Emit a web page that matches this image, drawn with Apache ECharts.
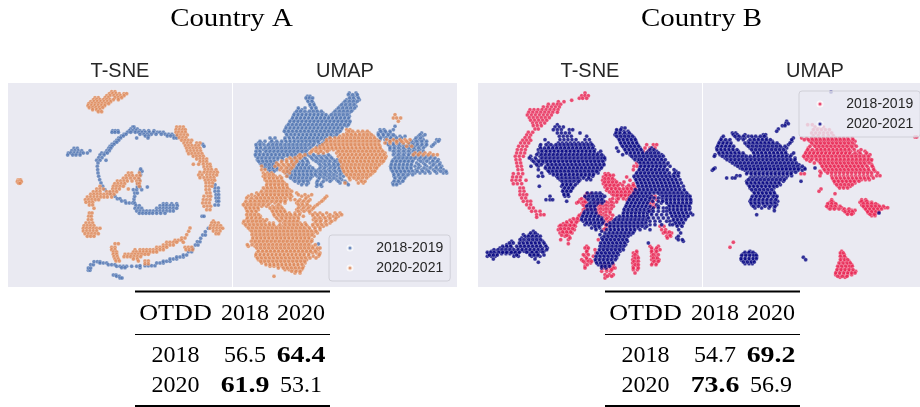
<!DOCTYPE html>
<html><head><meta charset="utf-8">
<style>html,body{margin:0;padding:0;background:#fff}#c{width:920px;height:407px}</style>
<script src="https://cdn.jsdelivr.net/npm/echarts@6/dist/echarts.min.js"></script>
</head><body><div id="c"></div>
<script>
// Points. Each row is [y, x, x, x, ...] in the units of that panel's axes.
const aTsne18 = [[232,398,402],[238,392,404,412],[243,338,346,354,388,398,408,420,432,446,462],[248,336,345,355,382,392,406,416,426,436,448,460,472,480,490],[254,372,378,420,432,442,454,468,484,496,506,516],[259,364,370,436,446,502,512,522,530],[265,356,362,410,444,522,530],[272,350,356],[278,344,350],[284,336,342,608],[290,330,336,612],[296,326,332,222,232],[303,320,328,215,225,235,245,270],[310,305,315,322,205,212,222,232,242,250,262],[316,300,312,203,218,228,240],[324,296,306],[332,290,300,318],[340,294],[350,292],[360,293],[370,294],[380,296],[390,299],[400,303],[410,308],[420,315],[430,330],[440,345],[447,352,360],[454,365,375],[460,378,388,398],[456,402],[448,402],[440,404],[430,404,412],[420,400,410,425],[412,412,420,442],[402,414],[390,418],[375,422],[365,420,426],[358,422],
[462,405,490,500,515,530],[468,408,418,480,490,500,510,520,532],[476,405,415,425,470,480,490,500,510,520,530],[484,410,420,430,440,450,460,470,480,490,500,510,520],[491,418,428,438,448,458,470,482,495],[405,645],[415,645,655],[425,645,655],[435,648,656],[445,648,656],[455,650,656],[466,645,655],[500,606,612],
[662,265,270],[655,265,272],[645,272,280],[636,282,292,300],[640,300,310,320],[645,325,335,345],[650,350,360,370,380,395,410],[654,365,375,420],[648,420,435,445,455,465],[640,470,480,490],[635,490,500,510],[628,510,520,530],[622,530,540,550],[616,550,560],[606,565,575],[596,578],[586,586,594],[576,592,600],[566,602],[556,608,616],[546,616],[536,625],[676,340,348],[680,350,358],[685,360,366]];
const aTsne20 = [[126,335,345],[132,328,338,348,358,372,380],[138,320,330,342,352,362,372],[144,285,295,315,325,345,355,365],[150,280,290,300,310,320,330,340,355],[156,272,282,292,302,312,322,332],[162,266,276,286,296,306,316,326],[168,264,274,284,294,304,314],[174,268,278,288,298,308],[180,278,290,300],[186,295,305],
[232,530,540,550],[240,528,538,548,556],[248,528,536,546,556],[256,532,542,552,562],[264,538,548,558],[272,545,555,565,575],[280,552,562,572,590,600],[288,556,566,576,586,596],[296,560,570,580,590,600],[304,562,572,582,592,602],[312,566,576,586,596,606],[320,580,590,600,610],[328,590,600,610,620],[336,600,610,620],[344,580,596,610,622,630],[352,612,622,632],[360,615,625,635,648],[368,600,612,622,632,642,652],[376,596,606,620,630,640,650],[384,600,612,622,632,642],[392,616,626,636,644],[400,618,628,638],[410,618,628,636],[420,618,628],[430,620,630],[440,612,624,632],[450,610,620,630],[460,608,618,628],[470,612,622,632],[480,620,630],
[370,385,395,418],[378,378,388,398,410,420],[386,370,380,392,404,416],[394,352,362,372,382,396,410,420],[402,344,354,364,374,412,418],[410,300,340,350,360,370,418],[418,290,300,310,338,348,358,385],[426,280,290,300,320,330,340,350],[434,272,282,292,302,312,322,332,342],[442,262,272,282,292,302,312,322,335],[450,256,266,276,286,296],[458,258,268,278],[466,268,278],[476,282],[490,268,276],[500,266,274],[510,265,275],[520,258,268,278],[528,252,262,272,282],[536,250,260,270,280,290,300],[544,250,260,270,280,290],[552,255,265,275,285,295],[560,262,272,282],
[391,54,58,62],[396,52,58,64],[401,56,60],
[514,640],[520,635,645,655],[528,632,642,652,662],[536,630,640,650,660,668],[544,640,650,660],[552,648,656],
[535,570],[545,566],[555,560],[565,545,555],[572,525,535,545],[578,500,510,520,530,550],[582,345,355],[586,490,500,510,520],[593,335,345,470,480,490,500,555,565,575],[600,335,345,405,420,430,440,450,460,470,480,490,558,568,578],[607,340,350,400,410,420,430,440,450,460,470],[614,340,350,375,385,395,405,415,425,435,445],[621,342,352,372,382,392,402,412,422],[628,345,355,400,412],[634,348,358,415,435,445],[642,435,445]];
const aUmap18 = [[130,358,378],[140,232,240,362,372,382],[150,232,245,350,362,374,388],[160,238,250,340,352,364,376],[170,242,254,330,342,354,366,378],[180,205,216,245,258,320,332,344,356,368],[190,195,207,219,231,243,255,267,279,310,322,334,346,358],[200,190,202,214,226,238,250,262,274,286,298,310,322,334,346,358],[210,185,197,209,221,233,245,257,269,281,293,305,317,329,341,353],[220,178,190,202,214,226,238,250,262,274,286,298,310,322,334,346,358],[230,170,182,194,206,218,230,242,254,266,278,290,302,314,326,338,350,495],[240,165,177,189,201,213,225,237,249,261,273,285,297,309,321,333,450,462,490],[250,168,180,192,204,216,228,240,252,264,276,288,300,312,324,445,457,469,481,575],[260,175,190,205,217,229,241,253,265,277,289,301,313,448,460,472,485,495,510,525,565,578],[270,125,165,180,195,210,222,234,246,258,270,282,294,450,465,480,495,510,555,568,580,620,628],[280,85,95,120,132,144,156,170,182,194,206,218,230,242,254,266,278,470,490,510,540,552,564,576,588,615],[290,80,92,110,122,134,146,158,170,182,194,206,218,230,245,262,480,495,510,525,540,555,570,585,605],[300,85,100,112,124,136,148,160,172,184,196,208,220,232,480,495,510,525,540,555,570],[310,80,92,104,116,128,140,152,164,176,188,200,212,224,495,510,525,540,555,570],[320,78,90,102,114,126,138,150,162,174,190,205,220,240,255,270,285,300,500,512,524,536,548,560,575,590,605],[330,82,94,106,118,130,142,158,185,200,215,230,250,265,280,295,310,322,490,502,514,526,538,550,565,580,595,610,625],[340,90,102,114,126,138,185,197,209,221,235,265,280,295,310,322,330,485,497,509,521,533,545,560,580,600,615,630],[350,100,112,124,136,180,192,204,216,228,240,275,290,305,318,330,482,494,506,518,530,542,555,570,590,605,620,635],[360,115,127,140,180,192,204,216,228,240,252,265,280,295,310,325,335,484,496,508,520,532,544,558,575,590,610,625,640],[370,170,182,194,206,218,230,242,254,266,278,290,305,320,335,490,502,514,526,540,555,570,585,600,620,640,650],[380,175,187,199,211,223,235,247,262,275,290,305,320,340,492,504,516,528],[390,190,202,214,226,238,265,290,305,320,335,495,507,520],[400,205,220,235,260,275,330,350,488,500,510],[410,260,275],[583,265],
[135,355,368,382],[145,228,238,248,358,370,385],[155,234,246,345,358,370,382],[165,240,252,335,347,360,372],[175,205,225,245,258,325,338,350,362,374],[185,200,212,225,238,250,262,274,315,328,340,352,364],[195,192,204,216,228,240,252,264,276,288,304,316,328,340,352],[205,188,200,212,224,236,248,260,272,284,296,308,320,332,344,356],[215,180,192,204,216,228,240,252,264,276,288,300,312,324,336,348,360],[225,175,187,199,211,223,235,247,259,271,283,295,307,319,331,343,355],[235,168,180,192,204,216,228,240,252,264,276,288,300,312,324,336],[245,163,175,187,199,211,223,235,247,259,271,283,295,307,319,330,452,466,480],[255,170,183,195,207,219,231,243,255,267,279,291,303,320,445,460,475,490,570,585],[265,120,135,165,178,190,202,214,226,238,250,262,274,286,300,452,468,482,500,515,558,572],[275,90,105,125,140,155,168,180,192,204,216,228,240,252,264,285,480,500,545,560,575,590,625],[285,78,90,102,115,128,140,152,165,177,189,201,213,225,237,250,270,475,490,505,520,535,548,562,576,590,610],[295,80,92,105,118,130,142,154,166,178,190,202,214,226,240,480,492,505,520,535,550,565,580],[305,78,90,108,120,132,144,156,168,180,192,204,216,228,490,505,520,535,550,565,580],[315,76,88,100,112,124,136,148,160,172,184,196,208,232,250,265,280,295,490,505,520,535,550,565],[325,84,96,108,120,132,144,156,195,210,225,245,260,275,290,305,495,507,519,531,543,555,570,585,600,615],[335,86,98,110,122,134,190,204,218,232,258,272,286,300,315,328,487,499,511,523,535,547,572,590,608,622],[345,94,106,118,130,142,182,194,206,218,230,270,285,298,312,325,484,496,508,520,532,544,566,585,610,628],[355,105,118,130,142,176,188,200,212,224,236,248,270,284,300,314,328,483,495,507,519,531,543,565,582,600,618,632],[365,120,132,172,184,196,208,220,232,244,258,272,286,300,315,330,488,500,512,524,536,548,562,578,596,615,632,648],[375,172,184,196,208,220,232,244,256,270,284,298,312,330,492,506,520,534,548],[385,182,194,206,218,230,242,268,282,298,312,330,495,510,524],[395,195,208,220,232,262,280,300,325,345,492,505,518],[405,215,230,262,272,355,490,500]];
const aUmap20 = [[240,350,360],[250,350,362,375,390,405,418],[260,330,345,357,369,381,393,405,417,430],[270,290,305,320,332,344,356,368,380,392,404,416,428,440,470,490,510,525,540],[280,285,297,309,321,333,345,357,369,381,393,405,417,429,441,465,480,500,520,535],[290,270,282,294,306,318,330,342,354,366,378,390,402,414,426,438,450,530,545],[300,250,262,274,286,298,310,322,334,346,358,370,382,394,406,418,430,442,454],[310,240,265,280,320,332,344,356,368,380,392,404,416,428,440,452,465,555,570,585,600],[315,550,565,580,595,610,622],[320,205,215,325,337,349,361,373,385,397,409,421,433,445,457,468],[330,170,185,200,330,342,354,366,378,390,402,414,426,438,450,462],[340,140,155,170,185,195,335,347,359,371,383,395,407,419,431,443,455],[350,95,135,150,165,178,190,335,347,359,371,383,395,407,419,431,443],[360,95,105,150,165,180,340,352,364,376,388,400,412,424,436],[370,100,112,125,165,178,345,357,369,381,393,405,417,428],[380,100,112,124,136,150,170,355,367,379,391,403,415],[390,105,117,129,141,153,360,380,392],[400,115,127,139,151,163,345,385,400],[195,495],[205,490,500,512],[215,505],
[410,110,122,134,146,158,170],[420,105,117,129,141,153,165,178],[430,80,92,104,116,128,140,152,165,178,200],[440,55,75,87,99,111,123,135,147,159,172,185,215,235,290],[450,60,72,84,96,108,120,132,144,156,168,182,195,210,225,240,280],[460,45,57,69,81,93,105,120,135,150,165,200,215,230,268],[470,45,57,69,81,95,110,128,140,152,210,225,240,255],[480,50,62,74,85,125,137,149,161,200,215,230,245],[490,55,67,79,130,142,154,166,178,195,210,240,255,270,290,315,330],[500,55,67,79,91,135,150,162,174,186,200,220,250,265,280,295,310,325],[510,50,62,74,86,98,110,145,157,169,181,193,205,250,262,274,288,300,315],[520,40,52,64,76,88,100,118,130,160,172,184,196,210,225,255,270,285,300],[530,50,62,74,86,98,110,122,134,146,158,170,182,194,206,218,232,250,265,280],[540,60,72,84,96,108,120,132,144,156,168,180,192,204,216,228,240,255,270],[550,70,82,94,106,118,130,142,154,166,178,190,202,214,226,238,250,262],[560,72,84,96,108,120,132,144,156,168,180,192,204,216,228,240,252],[570,70,82,94,106,118,130,142,154,166,178,190,202,214,226,238,246],[580,72,84,96,108,120,132,144,156,168,180,192,204,216,228,240],[590,55,75,87,99,111,123,135,147,159,171,183,195,207,219,231,243,250],[600,85,97,109,121,133,145,157,169,181,193,205,217,229,241,255,265],[610,80,92,104,116,128,140,152,164,176,188,200,212,224,236,248,260,270],[620,78,90,102,114,126,138,150,162,174,186,198,210,222,235,250,265],[630,85,97,109,121,133,145,157,169,181,193,205,217,230],[640,95,107,119,131,143,155,167,179,191,203,215,225],[650,120,132,144,156,168,180,192,204,220],[660,165,177,189,201,215],[670,195,210],[680,132],
[245,356,368,384,398,412],[255,340,352,364,376,388,400,412,424],[265,300,315,326,338,350,362,374,386,398,410,422,434],[275,290,302,314,327,339,351,363,375,387,399,411,423,435,447,480,500,515,530],[285,278,291,303,315,327,339,351,363,375,387,399,411,423,435,447],[295,258,270,282,294,306,318,330,342,354,366,378,390,402,414,426,438,450],[305,245,258,272,292,326,338,350,362,374,386,398,410,422,434,446,458],[315,210,225,330,342,354,366,378,390,402,414,426,438,450,462],[325,180,195,210,335,347,359,371,383,395,407,419,431,443,455,466],[335,155,170,185,200,332,344,356,368,380,392,404,416,428,440,452,460],[345,145,160,175,190,340,352,364,376,388,400,412,424,436,448],[355,155,170,185,338,350,362,374,386,398,410,422,434,440],[365,160,172,342,354,366,378,390,402,414,426,434],[375,105,118,130,350,362,374,386,398,410,422],[385,105,118,130,142,155,358,372,385,398,410],[395,110,122,134,146,158,395,405],[405,110,122,134,146,158,170],[415,100,112,124,136,148,160,172],[425,95,110,122,134,146,158,170,185],[435,65,85,98,110,122,134,146,158,170,182,205,225,245],[445,50,65,80,92,104,116,128,140,152,165,180,228,285],[455,48,62,75,88,100,112,126,140,152,165,205,220,235,275],[465,40,52,63,75,87,100,115,145,205,218,232,262],[475,48,60,72,84,120,132,144,156,205,220,235,250],[485,52,65,78,128,140,152,164,205,222,238],[495,50,62,74,86,132,145,157,170,182,195,208,248,262,278,300,320,335],[505,52,65,78,90,140,155,168,180,192,205,255,270,285,300,318],[515,42,55,68,80,92,105,150,165,178,190,202,258,272,288,305],[525,46,58,70,82,94,106,118,130,150,165,178,190,202,215,228,248,262,275,290],[535,55,67,79,91,103,115,127,139,151,163,175,187,199,211,223,238,255,270],[545,65,77,89,101,113,125,137,149,161,173,185,197,209,221,233,245,258],[555,66,78,90,102,114,126,138,150,162,174,186,198,210,222,234,246],[565,68,80,92,104,116,128,140,152,164,176,188,200,212,224,236],[575,64,76,88,100,112,124,136,148,160,172,184,196,208,220,232,245],[585,52,66,80,92,104,116,128,140,152,164,176,188,200,212,224,236,256],[595,80,92,104,116,128,140,152,164,176,188,200,212,224,236,248,262,270],[605,85,98,110,122,134,146,158,170,182,194,206,218,230,242,256],[615,78,90,102,114,126,138,150,162,174,186,198,210,222,236,268],[625,82,94,106,118,130,142,154,166,178,190,202,214,226,240,258],[635,92,104,116,128,140,152,164,176,188,200,212,224],[645,108,120,132,144,156,168,180,192,204,216],[655,145,160,172,184,196,208,218],[665,185,198,210]];
const bTsne18 = [[130,345],[138,335,345,355],[146,328,338,350],[152,305],[156,265,282],[164,235,250,262,272],[172,220,232,244,256,268],[180,180,192,204,216,228,240,252,264],[188,176,188,200,212,224,236,248,262],[196,172,184,196,208,220,232,244],[204,178,190,202,214,226,238],[212,182,194,206,218,230],[220,188,200,212,224],[228,190,202,214],[238,195,205],[248,175,188],[256,170,182],[264,165,178],[272,158,170,182],[280,152,164,176],[290,146,158,170],[300,142,154,166],[310,140,152,164],[320,136,148,160],[330,138,150],[340,140,152],[350,142,154],[360,144,156],[372,130,145,158],[382,128,140,152],[392,126,138,150,168],[402,130,142,155],[415,150,160],[425,150,162],[435,150,160,170],[445,155,167],[455,160,172,182],[465,170,182],[475,178,190],[485,185,197,210],[495,200,212,222],[503,200],
[285,530,550,560],[295,525,540,555],[305,520,535],[340,500],[350,492,502],[360,490],[372,405,415],[382,400,412,424,470],[392,398,410,422,434,480],[402,400,412,424,436,450,490],[412,405,417,429,440,470,482,495],[422,410,425,440,452,464,476,488,500],[432,350,362,425,437,449,461,473,485,497],[440,545,555,440,452,464,476,488,345],[450,545,560,330,345,420,440,470],[460,540,550,320,335,350,385,400,415,430],[470,545,555,345,360,385,400,415,430],[480,540,340,355,370,385,400,415],[492,335,385,400,420],[502,325,400,415],[512,300,315,325,405,420],[522,280,292,304,316,405],[530,268,280,292,304,316,410,570,582],[540,265,277,289,301,313,400,405,575,587],[550,270,282,294,306,580,592,605],[560,285,297,590,602],[570,272,295,385],[582,295],[590,350,540,565],[600,352,545,557,570,375],[610,350,378,490,500,545,557],[620,345,370,490,502,545,557],[630,335,350,360,488,500,545,557,567],[640,345,362,488,500,548,560],[645,400,415,430],[650,345,490,502],[655,395,410,422,435],[660,490,502],[665,395,410,422],[670,495],[675,405,418,430],[685,405],
[377,408,420,430],[387,405,416,428],[397,404,416,428,440,462],[407,408,420,432,444,458,476,490],[417,412,424,436,448,460,472,484,496],[427,418,430,442,454,466,478,490,502],[437,430,442,454,466,478,490],[447,335,350,428,445,460,475],[457,325,340,345,375,392,408,424,440],[467,340,352,378,392,408,424],[477,345,362,375,392,408,424],[487,340,380,392,408,420],[497,328,392,408,428],[507,310,322,395,410,425],[517,290,305,320,400,415],[527,272,286,300,312,408,420],[537,272,284,296,308,405],[547,278,290,302,585,598],[557,275,290,600],[565,300,592],[595,345,355,545,560],[605,350,545,560,500],[615,340,355,495,550,565],[625,350,495,505,550,562],[635,340,355,365,492,505,552,565],[645,352,495,505,545,558],[655,345,490,505,400,430],[660,410,425],[680,412,425]];
const bTsne20 = [[225,262],[232,255,268,280],[240,250,262,274,298,308],[250,262,274,286,298,330],[260,268,280,292,304,350],[270,225,270,282,294,306,318,345,358],[280,235,265,277,289,301,313,325,337,349,362],[290,210,235,250,262,274,286,298,310,322,334,346,358,370],[300,205,218,230,242,254,266,278,290,302,314,326,338,350,362,374],[310,205,217,229,241,253,265,277,289,301,313,325,337,349,361,373,385],[320,182,210,222,234,246,258,270,282,294,306,318,330,342,354,366,378,390,400],[330,185,200,212,224,236,248,260,272,284,296,308,320,332,344,356,368,380,392,404],[340,195,207,219,231,243,255,267,279,291,303,315,327,339,351,363,375,387,400],[350,183,205,228,240,252,264,276,288,300,312,324,336,348,360,372,384,396],[360,205,232,244,256,268,280,292,304,316,328,340,352,364,376,388],[370,215,240,252,264,276,288,300,312,324,336,348,360,372,384],[380,205,218,260,272,284,296,308,320,332,344,356,368],[390,270,282,294,306,318,330,350,362],[400,280,292,304,322],[410,208,275,287,299,311],[420,280,292,304],[430,282,294],[440,240,285,296],[450,228,240,248],[455,290],
[235,455,465],[245,440,450,462,474],[255,435,447,459,471,483],[265,445,457,469,481,493],[275,450,462,474,486,498],[285,455,467,479,491,503],[295,440,462,474,486,498,510,545],[305,445,468,480,492,504,516,535,548,560],[315,458,480,492,504,516,525,537,549,561,575],[325,490,502,514,525,537,549,561,573],[335,505,512,520,532,544,556,568,580],
[345,515,527,539,551,563,575,590],[355,510,522,534,546,558,570,582],[365,505,517,529,541,553,565,577,589,618],[375,498,510,522,534,546,558,570,582,594,610,622],[385,495,507,519,531,543,555,567,579,591,603,615],[395,500,512,524,536,548,560,572,584,596,608,620],[405,505,517,529,541,553,565,577,589,601,613,625],[415,510,522,534,546,558,570,582,594,606,618,630],[425,500,512,524,536,548,560,572,584,596,608,620,632,644],[435,360,372,384,396,490,502,514,526,538,570,582,594,606,618,630,642,654],[445,350,362,374,386,398,480,492,504,516,528,575,587,599,611,623,635,647,659],[455,365,377,389,401,475,487,499,511,523,535,590,602,614,626,638,650,662],[465,355,367,379,470,482,494,506,518,530,560,596,608,620,632,644,656],[475,360,372,465,477,489,501,513,525,537,600,612,624,636,648,660],[485,345,357,369,465,477,489,501,513,525,600,612,624,636,648],[495,340,352,364,376,460,472,484,496,508,520,532,605,617,629,641,655,668],[505,335,347,359,371,383,395,440,452,464,476,488,500,512,524,612,624,636,648],[515,340,352,364,376,388,400,430,442,454,466,478,490,502,514,526,612,624,636],[525,345,357,369,381,393,410,425,437,449,461,473,485,497,509,521,540,620,632],[535,365,377,389,420,432,444,456,468,480,492,504,525],[545,395,420,432,444,456,468,480,492],[555,390,410,422,434,446,458,470,482],[565,395,405,417,429,441,453,465,620],[575,400,412,424,436,448,460,472,640],[585,395,407,419,431,443,455,467],[595,395,407,419,431,443,455],[605,390,402,414,426,438,450],[615,385,397,409,421,433,445],[625,380,392,404,416,428,440],[635,378,390,402,414,426],[645,385,397,409,420],[655,395,408],
[545,190],[555,160,178,190,202],[565,155,170,182,194,206],[575,125,155,170,182,194,206,218],[585,110,122,150,162,174,186,198,210,225],[595,90,102,114,126,145,158,170,182,194,206,218,232],[605,65,78,90,102,114,126,138,150,162,174,186,198,210,222],[612,55,67,79,95,108,120,132,144,180,192,204],[620,52,64,76,132,145,185,198,210],[628,70,195],[638,205],
[285,212,228,243,258,270,282,294,306,318,330,342,354,366],[295,212,224,236,248,260,272,284,296,308,320,332,344,356,368],[305,215,228,240,252,264,276,288,300,312,324,336,348,360,372,392],[315,200,214,226,238,250,262,274,286,298,310,322,334,346,358,370,382,395],[325,178,196,216,228,240,252,264,276,288,300,312,324,336,348,360,372,384,396,404],[335,190,206,218,230,242,254,266,278,290,302,314,326,338,350,362,374,386,398],[345,200,214,234,246,258,270,282,294,306,318,330,342,354,366,378,390,402],[355,226,238,250,262,274,286,298,310,322,334,346,358,370,382,394],[365,236,248,260,272,284,296,308,320,332,344,356,368,380],[375,250,262,274,286,298,310,322,334,346,358,370],[385,264,276,288,300,312,324,340,356],[395,276,288,300,312,326],[405,278,290,302,316],[415,284,296,308],[425,278,290,302],[435,282,294],
[240,440,452],[250,438,450,464,478],[260,440,452,464,476,488],[270,448,460,472,484,496],[280,452,464,476,488,500],[290,458,470,482,494,506],[300,465,477,489,501,513,540,552],[310,470,482,494,506,518,530,542,554,566],[320,485,497,509,520,532,544,556,568,580],[330,495,507,515,527,539,551,563,575,586],
[340,510,522,534,546,558,570,582,594],[350,512,524,536,548,560,572,584,600],[360,508,520,532,544,556,568,580,592,612],[370,500,512,524,536,548,560,572,584,598,614,626],[380,492,504,516,528,540,552,564,576,588,600,612,625],[390,498,510,522,534,546,558,570,582,594,606,618,630],[400,502,514,526,538,550,562,574,586,598,610,622,634],[410,505,517,529,541,553,565,577,589,601,613,625,640],[420,496,508,520,532,544,556,568,580,592,604,616,628,642],[430,352,366,378,390,492,504,516,528,540,552,564,576,588,600,612,624,636,650],[440,345,356,368,380,392,404,484,496,508,520,532,544,578,590,602,614,626,638,650,660],[450,355,370,383,395,478,490,502,514,526,538,578,590,602,614,626,638,650,662],[460,360,372,384,396,472,484,496,508,520,532,574,590,602,614,626,638,650,662],[470,350,362,374,468,480,492,504,516,528,540,565,598,610,622,634,646,658],[480,352,364,376,462,474,486,498,510,522,534,546,598,610,622,634,646,658],[490,342,354,366,378,460,472,484,496,508,520,532,544,602,614,626,638,650,662],[500,338,350,362,374,386,448,460,472,484,496,508,520,532,606,618,630,642,654],[510,335,347,359,371,383,395,435,447,459,471,483,495,507,519,531,610,622,634,646],[520,350,362,374,386,398,420,432,444,456,468,480,492,504,516,528,616,628,640],[530,375,387,420,432,444,456,468,480,492,504,516,530,622,636],[540,378,410,422,434,446,458,470,482,494,510,540,626],[550,405,417,429,441,453,465,477,489,632],[560,402,414,426,438,450,462,474,625],[570,398,410,422,434,446,458,470,625,637],[580,392,404,416,428,440,452,464,535],[590,390,402,414,426,438,450,462],[600,388,400,412,424,436,448,460],[610,382,394,406,418,430,442],[620,378,390,402,414,426,438],[630,376,388,400,412,424,436],[640,380,392,404,416,428],[650,395,405,418],
[550,182,196],[560,165,175,187,199,211],[570,150,162,176,188,200,212],[580,118,130,148,160,172,184,196,208,222],[590,98,110,122,140,152,164,176,188,200,212,228],[600,72,84,96,108,120,132,144,156,168,180,192,204,216,230],[608,52,62,72,86,98,110,124,136,148,170,186,200,218],[616,58,70,82,140,180,192,204,222],
[445,540,552,565],[455,548,565,578],[475,550,565,580,590],[485,537,550,565,580,590],[495,545,560,575,590],[505,536,550,565,580,595],[515,540,555,570,590,600],[525,555,575,600,608]];
const bUmap18 = [[225,338,352],[232,360,372,385],[240,355,367,379,391,403],[250,350,362,374,386,398,410],[258,355,370,385,400,415],[262,660,665],[265,320,335,350,362,374,386,398,410,422,434,446,458,472],[275,345,358,370,382,394,406,418,430,442,454,466,480],[285,355,367,379,391,403,415,427,439,451,463,478],[295,340,365,377,389,401,413,425,437,449,461,473],[305,335,347,359,371,383,395,407,419,431,443,455,467,490,510],[315,330,342,354,366,378,390,402,414,426,438,450,462,474,486,498,512,525],[325,330,342,354,366,378,390,402,414,426,438,450,462,474,486,498,510,522],[335,345,372,384,396,408,420,432,444,456,468,480,492,504,516,528],[345,380,392,404,416,428,440,452,464,476,488,500,512,530],[355,385,397,409,421,433,445,457,469,481,493,505,520,535],[365,375,392,404,416,428,440,452,464,476,488,500,512,524,540],[372,318,328],[378,375,410,422,434,446,458,470,482,494,506,518,530,545,555],[390,415,427,439,451,463,475,487,499,511,523],[400,420,432,444,456,468,480],[410,430,442,454,466],[418,378],[425,372],[432,420],[450,410,500,512],[458,405,415,495,507,519,530],[466,400,412,424,500,512,524,536,548],[474,400,412,424,440,508,520,532,544,556,570,578],[482,445,458,470,480,515,527,539,551],[490,455,467,475,520,532,544],[498,530,540],
[605,440],[615,438,448],[625,440,452],[635,438,450,462],[645,435,447,459,470],[655,430,442,454,466],[665,425,437,449,461,472,482],[675,422,434,446,458,470],[683,435,450],[578,115],[593,105],
[270,328,340,352,364,376,388,400,412,424,436,448,460,474],[280,350,364,376,388,400,412,424,436,448,460,472],[290,345,360,372,384,396,408,420,432,444,456,470,484],[300,338,352,366,378,390,402,414,426,438,450,462,478,498],[310,332,344,356,368,380,392,404,416,428,440,452,464,480,495,515],[320,326,338,350,362,374,386,398,410,422,434,446,458,470,482,494,506,520],[330,335,350,364,376,388,400,412,424,436,448,460,472,484,496,508,520,530],[340,358,376,388,400,412,424,436,448,460,472,484,496,508,522],[350,382,394,406,418,430,442,454,466,478,490,502,516,532],[360,388,400,412,424,436,448,460,472,484,496,508,520,536],[370,378,398,410,422,434,446,458,470,482,494,506,518,530,548],[385,412,424,436,448,460,472,484,496,508,520,535],[395,418,430,442,454,466,478,492],[405,425,437,449,461,472],[415,434,446,458],[455,410,500,515],[462,398,410,422,505,517,530,542],[470,395,408,420,435,505,517,529,541,553,565],[478,405,418,432,448,462,512,524,536,548,560],[486,450,462,472,518,530,542,552],[494,458,470,525,538],
[610,436,445],[620,436,448],[630,436,448,458],[640,432,444,456,466],[650,428,440,452,464,472],[660,426,438,450,462,474],[670,422,434,446,458,470,480],[680,428,442,456]];
const bUmap20 = [[127,408],[215,275],[222,272,280],[228,262,270],[238,250],[245,245],[250,112,122],[255,115,127,150,205,212],[265,80,125,137,150,175,190,202,214,295],[275,75,87,99,160,172,184,196,208,220,232,290],[285,70,82,94,106,155,167,179,191,203,215,227,239,251,280],[295,65,77,89,101,113,165,177,189,201,213,225,237,249,261,275],[305,70,82,94,106,118,130,175,187,199,211,223,235,247,259,271],[315,60,75,87,99,111,123,135,147,180,192,204,216,228,240,252,264,276,290],[325,90,102,114,126,138,150,162,174,186,198,210,222,234,246,258,270,282,300],[335,105,117,129,141,153,165,177,189,201,213,225,237,249,261,273,285,297],[345,120,132,144,156,168,180,192,204,216,228,240,252,264,276,288,300,312],[355,60,135,147,159,171,183,195,207,219,231,243,255,267,279,291,303,315,328,360],[362,52,150,165,177,189,201,213,225,237,249,261,273,285,297,309,322],[378,125,135,170,182,194,206,218,230,242,254,266,278,290],[385,95,112,120,165,177,189,201,213,225,237,249,261,273],[395,155,167,179,191,203,215,227,239,251,265,318],[405,160,172,184,196,208,220,232,244,256],[415,165,177,189,201,213,225,237],[425,175,187,199,211,223,235],[435,180,192,204,216,228,240],[445,170,182,194,206,218,232,244],[455,165,177,189,201,213,225,237,248],[465,170,182,194,206,218,232,245],[475,180,200,222,238],[483,238],[495,185],[490,552],
[605,165],[612,145,157,169,180],[622,140,152,164,176,185],[632,140,152,164,176],[642,150,162,172],[623,325],[630,332],
[260,85,120,132,145,160,170,182,196,208],[270,78,92,105,130,145,165,178,190,202,214,226,290],[280,72,84,96,108,150,162,174,186,198,210,222,234,246,285],[290,68,80,92,104,116,160,172,184,196,208,220,232,244,256,270],[300,66,78,90,102,114,126,170,182,194,206,218,230,242,254,266],[310,72,84,96,108,120,132,144,176,188,200,212,224,236,248,260,272,296],[320,58,82,94,106,118,130,142,154,166,178,190,202,214,226,238,250,262,274,286],[330,96,108,120,132,144,156,168,180,192,204,216,228,240,252,264,276,288,300],[340,112,124,136,148,160,172,184,196,208,220,232,244,256,268,280,292,304],[350,128,140,152,164,176,188,200,212,224,236,248,260,272,284,296,308,322],[358,56,142,154,166,178,190,202,214,226,238,250,262,274,286,298,310,330],[368,158,170,182,194,206,218,230,242,254,266,278,290,302],[372,155,168,180,192,204,216,228,240,252,264,276,288],[390,160,172,184,196,208,220,232,244,256,268],[400,156,168,180,192,204,216,228,240,252],[410,164,176,188,200,212,224,236,246],[420,170,182,194,206,218,230],[430,178,190,202,214,226,238],[440,172,184,196,208,220,236,246],[450,168,180,192,204,216,228,242],[460,168,180,192,204,216,228,240],[470,175,190,210,225,240],
[608,150,162,174],[617,140,152,164,176,184],[627,138,150,162,174,184],[637,145,157,169,178]];

const legendLabels = ['2018-2019','2020-2021'];
const panelTitles = ['T-SNE','UMAP','T-SNE','UMAP'];
const countryTitles = ['Country A','Country B'];
const tableHead = ['OTDD','2018','2020'];
const tableA = [['2018','56.5','64.4'],['2020','61.9','53.1']];
const tableB = [['2018','54.7','69.2'],['2020','73.6','56.9']];

const flat = rows => rows.flatMap(([y,...xs]) => xs.map(x => [x,y]));
const panels = [
 {l:8,  w:224, xr:[24,696], d:[aTsne18,aTsne20], c:['#4c72b0','#dd8452']},
 {l:233,w:224, xr:[9,681],  d:[aUmap18,aUmap20], c:['#4c72b0','#dd8452']},
 {l:478,w:224, xr:[24,696], d:[bTsne18,bTsne20], c:['#e8214f','#000080']},
 {l:703,w:217, xr:[24,675], d:[bUmap18,bUmap20], c:['#e8214f','#000080']}
];
const series=[];
panels.forEach((p,i)=>p.d.forEach((rows,k)=>series.push({
  type:'scatter',name:legendLabels[k],xAxisIndex:i,yAxisIndex:i,data:flat(rows),
  symbolSize:4,z:2+k,
  itemStyle:{color:p.c[k],opacity:0.8,borderColor:'#fff',borderWidth:0.3}
})));
const mkLegend=(left,top,cols)=>({
  left,top,orient:'vertical',padding:[6,7,6,17.5],itemWidth:24.5,itemHeight:5,itemGap:6,
  backgroundColor:'rgba(234,234,242,0.8)',borderColor:'#d0d0d8',borderWidth:1,borderRadius:3,
  textStyle:{fontFamily:'Liberation Sans',fontSize:14,color:'#262626',padding:[0,0,0,9]},
  selectedMode:false,
  data:legendLabels.map((n,k)=>({name:n,icon:'circle',itemStyle:{color:cols[k],opacity:0.8}}))
});
const graphic=[];
const txt=(s,x,y,size,bold,sx)=>graphic.push({type:'text',x,y,scaleX:sx||1,silent:true,
  style:{text:s,fill:'#000',fontFamily:'Liberation Serif',fontSize:size,fontWeight:bold?'bold':'normal',textAlign:'center',textVerticalAlign:'middle',verticalAlign:'middle'}});
const rule=(x1,x2,y,lw)=>graphic.push({type:'line',silent:true,shape:{x1,y1:y,x2,y2:y},style:{stroke:'#000',lineWidth:lw}});
[[0,tableA,0],[1,tableB,470]].forEach(([i,t,dx])=>{
  txt(countryTitles[i],231.5+dx,19,26,false,1.11);
  rule(135+dx,330+dx,291.5,2);rule(135+dx,330+dx,334.5,1);rule(135+dx,330+dx,406,2);
  const cols=[175.5+dx,245+dx,301+dx];
  tableHead.forEach((h,c)=>txt(h,cols[c],313.5,24,false,c?1:1.09));
  t.forEach((row,r)=>row.forEach((v,c)=>{
    const bold=(c===1&&r===1)||(c===2&&r===0);
    txt(v,cols[c],356+r*29.5,24,bold,bold?1.16:1);
  }));
});
const chart=echarts.init(document.getElementById('c'),null,{renderer:'canvas'});
chart.setOption({
  animation:false,backgroundColor:'#fff',
  title:panels.map((p,i)=>({text:panelTitles[i],left:[120,345,590,815][i],top:61,textAlign:'center',padding:0,
    textStyle:{fontFamily:'Liberation Sans',fontSize:20,fontWeight:'normal',color:'#262626'}})),
  grid:panels.map(p=>({left:p.l,top:83,width:p.w,height:204,show:true,backgroundColor:'#eaeaf2',borderWidth:0})),
  xAxis:panels.map((p,i)=>({gridIndex:i,type:'value',min:p.xr[0],max:p.xr[1],show:false})),
  yAxis:panels.map((p,i)=>({gridIndex:i,type:'value',min:100,max:712,inverse:true,show:false})),
  legend:[mkLegend(329,235,panels[0].c),mkLegend(799,91,panels[2].c)],
  series,graphic
});
</script></body></html>
